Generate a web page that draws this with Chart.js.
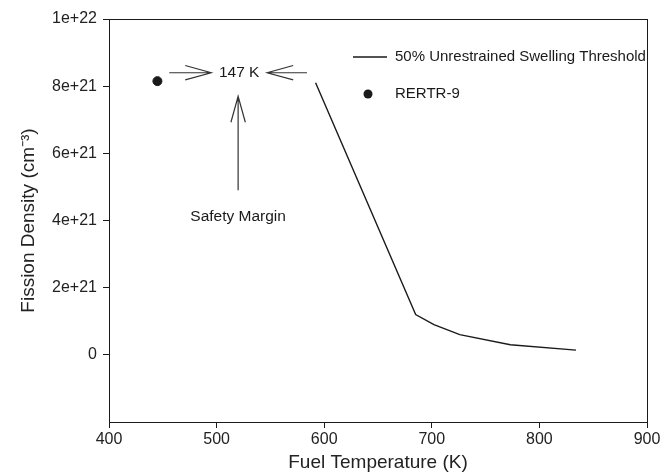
<!DOCTYPE html>
<html>
<head>
<meta charset="utf-8">
<script src="https://cdn.jsdelivr.net/npm/chart.js@4/dist/chart.umd.min.js"></script>
<style>
  html, body { margin: 0; padding: 0; background: #fff; }
  #wrap { width: 667px; height: 476px; }
</style>
</head>
<body>
<div id="wrap"><canvas id="chart" width="667" height="476"></canvas></div>
<script>
// threshold curve (fuel temperature K, fission density cm^-3)
const thresholdTemp = [592, 685, 702, 726, 773, 834]
const thresholdDensity = [8.1e21, 1.2e21, 0.9e21, 0.6e21, 0.3e21, 0.14e21]

// RERTR-9 measurement
const rertrTemp = [445]
const rertrDensity = [8.15e21]

const xTicks = [400, 500, 600, 700, 800, 900]
const yTicks = [0, 2e21, 4e21, 6e21, 8e21, 1e22]

const seriesLabels = ["50% Unrestrained Swelling Threshold", "RERTR-9"]

const marginText = "147 K"
const marginLabel = "Safety Margin"

const ink = "#1a1a1a"
const font = "'Liberation Sans', Arial, sans-serif"

function fmtTick(v) {
  if (v === 0) return "0"
  return Number(v.toPrecision(3)).toExponential()
}

// open V arrow head like the original plot
function arrow(ctx, x1, y1, x2, y2) {
  const a = Math.atan2(y2 - y1, x2 - x1)
  const len = 27, spread = 0.27
  ctx.beginPath()
  ctx.moveTo(x1, y1)
  ctx.lineTo(x2, y2)
  ctx.moveTo(x2 - len * Math.cos(a - spread), y2 - len * Math.sin(a - spread))
  ctx.lineTo(x2, y2)
  ctx.lineTo(x2 - len * Math.cos(a + spread), y2 - len * Math.sin(a + spread))
  ctx.stroke()
}

const overlay = {
  id: "overlay",
  afterDatasetsDraw(chart) {
    const { ctx, chartArea: ca, scales } = chart
    const sx = scales.x, sy = scales.y
    ctx.save()

    // frame
    ctx.strokeStyle = ink
    ctx.lineWidth = 1
    ctx.strokeRect(ca.left + 0.5, ca.top + 0.5, ca.right - ca.left, ca.bottom - ca.top)

    // safety margin annotation
    ctx.lineWidth = 1.2
    ctx.strokeStyle = "#333"
    const ay = sy.getPixelForValue(8.4e21)
    arrow(ctx, sx.getPixelForValue(456), ay, sx.getPixelForValue(495), ay)
    arrow(ctx, sx.getPixelForValue(584), ay, sx.getPixelForValue(547), ay)
    arrow(ctx, sx.getPixelForValue(520), sy.getPixelForValue(4.9e21),
      sx.getPixelForValue(520), sy.getPixelForValue(7.7e21))

    ctx.fillStyle = ink
    ctx.font = "15.5px " + font
    ctx.textAlign = "center"
    ctx.textBaseline = "middle"
    ctx.fillText(marginText, sx.getPixelForValue(521), ay)
    ctx.fillText(marginLabel, sx.getPixelForValue(520), sy.getPixelForValue(4.1e21))

    // legend
    const lx = 353, ly1 = 57, ly2 = 94
    ctx.font = "15px " + font
    ctx.strokeStyle = ink
    ctx.lineWidth = 1.5
    ctx.beginPath()
    ctx.moveTo(lx, ly1)
    ctx.lineTo(lx + 34, ly1)
    ctx.stroke()
    ctx.beginPath()
    ctx.arc(lx + 15, ly2, 4.5, 0, Math.PI * 2)
    ctx.fill()
    ctx.textAlign = "left"
    ctx.fillText(chart.data.datasets[0].label, lx + 42, ly1)
    ctx.fillText(chart.data.datasets[1].label, lx + 42, ly2)
    ctx.restore()
  }
}

new Chart(document.getElementById("chart"), {
  type: "scatter",
  data: {
    datasets: [
      {
        label: seriesLabels[0],
        data: thresholdTemp.map((t, i) => ({ x: t, y: thresholdDensity[i] })),
        showLine: true,
        borderColor: ink,
        borderWidth: 1.4,
        pointRadius: 0,
        tension: 0,
      },
      {
        label: seriesLabels[1],
        data: rertrTemp.map((t, i) => ({ x: t, y: rertrDensity[i] })),
        backgroundColor: ink,
        borderColor: ink,
        pointRadius: 4.5,
      },
    ],
  },
  options: {
    responsive: false,
    animation: false,
    layout: { padding: { left: 0, top: 19, right: 20, bottom: 0 } },
    plugins: { legend: { display: false }, tooltip: { enabled: false } },
    scales: {
      x: {
        type: "linear",
        min: 400,
        max: 900,
        afterBuildTicks: (axis) => { axis.ticks = xTicks.map((v) => ({ value: v })) },
        afterFit: (axis) => { axis.height = 54 },
        grid: { drawOnChartArea: false, drawTicks: true, tickLength: 6, color: ink },
        border: { color: ink },
        ticks: { color: "#222", font: { family: font, size: 16 }, padding: 2 },
        title: {
          display: true,
          text: "Fuel Temperature (K)",
          color: "#222",
          font: { family: font, size: 19 },
          padding: { top: 0, bottom: 2 },
        },
      },
      y: {
        type: "linear",
        min: -2e21,
        max: 1e22,
        afterBuildTicks: (axis) => { axis.ticks = yTicks.map((v) => ({ value: v })) },
        afterFit: (axis) => { axis.width = 109 },
        grid: { drawOnChartArea: false, drawTicks: true, tickLength: 6, color: ink },
        border: { color: ink },
        ticks: { color: "#222", font: { family: font, size: 16 }, padding: 6, callback: fmtTick },
        title: {
          display: true,
          text: "Fission Density (cm⁻³)",
          color: "#222",
          font: { family: font, size: 19 },
          padding: { top: 17, bottom: 0 },
        },
      },
    },
  },
  plugins: [overlay],
})
</script>
</body>
</html>
